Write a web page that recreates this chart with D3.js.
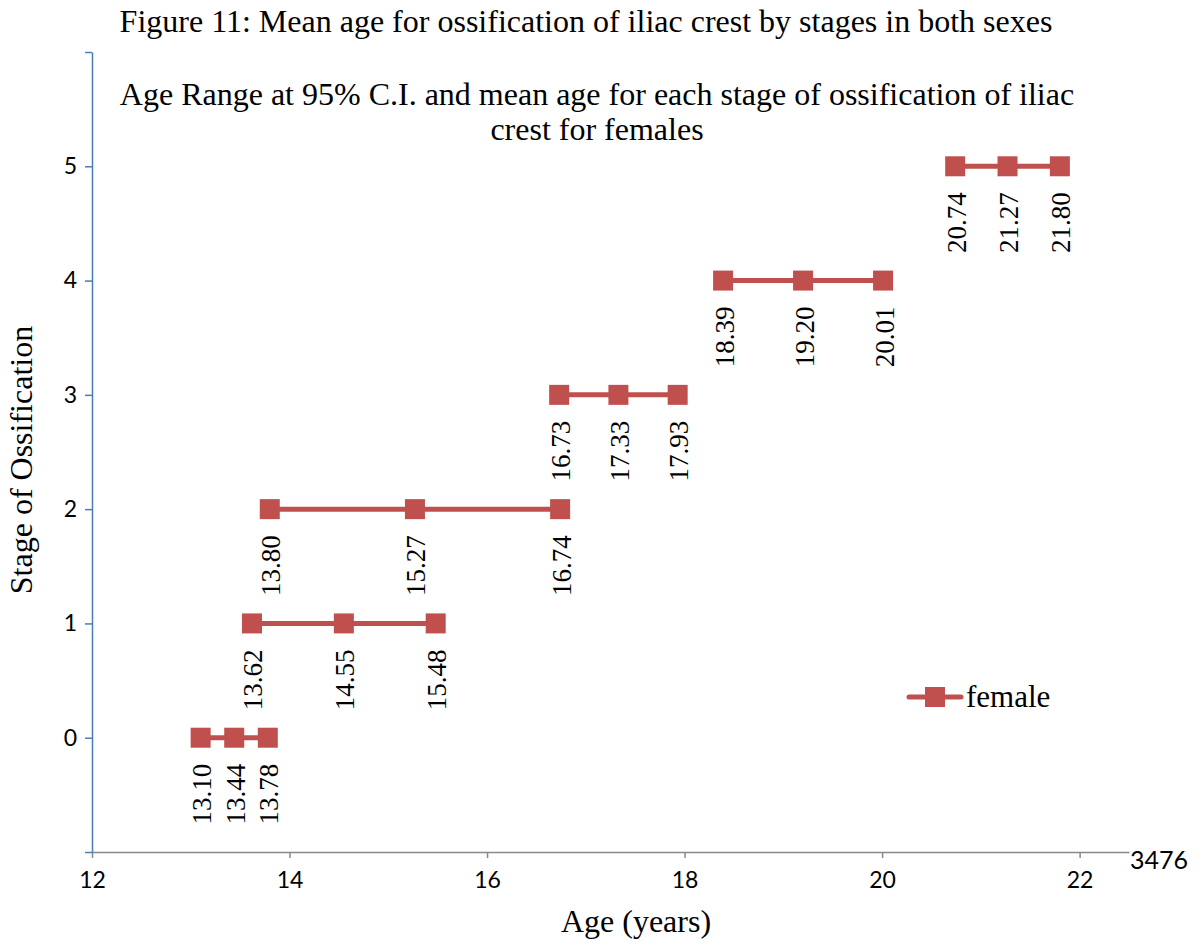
<!DOCTYPE html>
<html><head><meta charset="utf-8">
<script src="https://cdn.jsdelivr.net/npm/d3@7"></script>
<style>body{margin:0;background:#fff}svg{display:block}</style>
</head><body>
<svg id="c" width="1201" height="942"></svg>
<script>
const stages = [0, 1, 2, 3, 4, 5];
const lowerAge = [13.10, 13.62, 13.80, 16.73, 18.39, 20.74];
const meanAge = [13.44, 14.55, 15.27, 17.33, 19.20, 21.27];
const upperAge = [13.78, 15.48, 16.74, 17.93, 20.01, 21.80];
const xTicks = [12, 14, 16, 18, 20, 22];
const yTicks = [-1, 0, 1, 2, 3, 4, 5, 6];
const yTickLabels = ["", "0", "1", "2", "3", "4", "5", ""];

const svg = d3.select("#c");
const serif = "'Liberation Serif','Times New Roman',serif";
const sans = "Lato,'Open Sans',sans-serif";
const red = "#c0504d";

const x = d3.scaleLinear().domain([12, 22.5]).range([92, 1129]);
const y = d3.scaleLinear().domain([-1, 6]).range([852, 52]);

// x axis
const xa = svg.append("g").attr("transform", `translate(0,${y(-1)})`)
  .call(d3.axisBottom(x).tickValues(xTicks).tickSize(6).tickSizeOuter(0).tickPadding(14));
xa.select(".domain").attr("stroke", "#898989").attr("stroke-width", 1.5);
xa.selectAll(".tick line").attr("stroke", "#898989").attr("stroke-width", 1.5);
xa.selectAll("text").attr("font-family", sans).attr("font-size", 23).attr("fill", "#000");

// y axis
const ya = svg.append("g").attr("transform", `translate(${x(12)},0)`)
  .call(d3.axisLeft(y).tickValues(yTicks).tickFormat((d, i) => yTickLabels[i]).tickSize(7).tickSizeOuter(0).tickPadding(8));
ya.select(".domain").attr("stroke", "#4a7ebb").attr("stroke-width", 1.5);
ya.selectAll(".tick line").attr("stroke", "#4a7ebb").attr("stroke-width", 1.5);
ya.selectAll("text").attr("font-family", sans).attr("font-size", 23).attr("fill", "#000");

// data
const rows = stages.map((s, i) => ({stage: s, pts: [lowerAge[i], meanAge[i], upperAge[i]]}));
const line = d3.line().x(d => x(d.v)).y(d => y(d.s));
const g = svg.append("g");
rows.forEach(r => {
  const pts = r.pts.map(v => ({v, s: r.stage}));
  g.append("path").attr("d", line(pts)).attr("fill", "none").attr("stroke", red).attr("stroke-width", 5);
  pts.forEach(p => {
    g.append("rect").attr("x", x(p.v) - 10).attr("y", y(p.s) - 10).attr("width", 20).attr("height", 20).attr("fill", red);
    g.append("text")
      .attr("transform", `translate(${x(p.v) + 1},${y(p.s) + 26}) rotate(-90)`)
      .attr("text-anchor", "end").attr("dy", "0.35em")
      .attr("font-family", serif).attr("font-size", 27).attr("fill", "#000")
      .text(p.v.toFixed(2));
  });
});

// titles
const T = 32;
svg.append("text").attr("x", 586).attr("y", 32).attr("text-anchor", "middle")
  .attr("font-family", serif).attr("font-size", T).text("Figure 11: Mean age for ossification of iliac crest by stages in both sexes");
svg.append("text").attr("x", 597).attr("y", 105).attr("text-anchor", "middle")
  .attr("font-family", serif).attr("font-size", T).text("Age Range at 95% C.I. and mean age for each stage of ossification of iliac");
svg.append("text").attr("x", 597).attr("y", 140).attr("text-anchor", "middle")
  .attr("font-family", serif).attr("font-size", T).text("crest for females");
svg.append("text").attr("x", 636).attr("y", 932).attr("text-anchor", "middle")
  .attr("font-family", serif).attr("font-size", T).text("Age (years)");
svg.append("text").attr("transform", "translate(32,460) rotate(-90)").attr("text-anchor", "middle")
  .attr("font-family", serif).attr("font-size", T).text("Stage of Ossification");

// legend
const lg = svg.append("g");
lg.append("line").attr("x1", 909).attr("x2", 961).attr("y1", 697).attr("y2", 697)
  .attr("stroke", red).attr("stroke-width", 5).attr("stroke-linecap", "round");
lg.append("rect").attr("x", 925).attr("y", 687).attr("width", 20).attr("height", 20).attr("fill", red);
lg.append("text").attr("x", 966).attr("y", 707).attr("font-family", serif).attr("font-size", 31).text("female");

// page number
svg.append("text").attr("x", 1130).attr("y", 869).attr("font-family", sans).attr("font-size", 25).text("3476");
</script>
</body></html>
